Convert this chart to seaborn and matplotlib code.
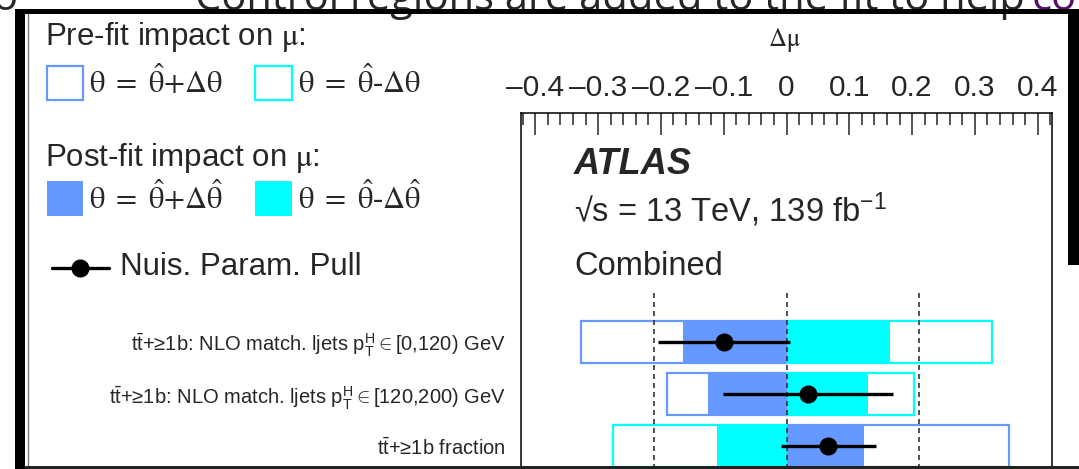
import numpy as np
import matplotlib.pyplot as plt
import seaborn as sns
from matplotlib.patches import Rectangle
from matplotlib.lines import Line2D
from matplotlib.ticker import MultipleLocator, FixedLocator, FixedFormatter

# ------------------------------------------------------------
# data
# ------------------------------------------------------------
labels = [
    r'$\mathrm{t\bar{t}}$+≥1b: NLO match. ljets $\mathrm{p}_{\mathrm{T}}^{\mathrm{H}} \in$[0,120) GeV',
    r'$\mathrm{t\bar{t}}$+≥1b: NLO match. ljets $\mathrm{p}_{\mathrm{T}}^{\mathrm{H}} \in$[120,200) GeV',
    r'$\mathrm{t\bar{t}}$+≥1b fraction',
]
prefit_up    = [-0.327, -0.191, 0.354]   # theta = theta_hat + delta theta
prefit_down  = [0.327, 0.203, -0.277]    # theta = theta_hat - delta theta
postfit_up   = [-0.165, -0.125, 0.124]
postfit_down = [0.165, 0.130, -0.111]
pulls    = [-0.47, 0.16, 0.315]
pull_err = [0.50, 0.64, 0.36]

mu_ticks = [-0.4, -0.3, -0.2, -0.1, 0.0, 0.1, 0.2, 0.3, 0.4]
mu_tick_labels = ['\u20130.4', '\u20130.3', '\u20130.2', '\u20130.1', '0',
                  '0.1', '0.2', '0.3', '0.4']
pull_lines = [-1, 0, 1]

BLUE = '#6699ff'
CYAN = '#00ffff'

sns.set_style('white')
plt.rcParams['font.family'] = ['Liberation Sans', 'DejaVu Sans']
plt.rcParams['mathtext.fontset'] = 'custom'
plt.rcParams['mathtext.rm'] = 'Liberation Sans'
plt.rcParams['mathtext.it'] = 'Liberation Sans:italic'
plt.rcParams['mathtext.bf'] = 'Liberation Sans:bold'

W, H = 1079, 469
fig = plt.figure(figsize=(W / 100, H / 100), dpi=100)


def fx(x):
    return x / W


def fy(y):
    return 1 - y / H


def rect_px(x0, y0, x1, y1, **kw):
    fig.add_artist(Rectangle((fx(x0), fy(y1)), fx(x1) - fx(x0), fy(y0) - fy(y1),
                             transform=fig.transFigure, **kw))


# main axes (left 521, right 1052, top 113, bottom 467 in pixels)
ax = fig.add_axes([fx(521), fy(467), fx(1052) - fx(521), fy(113) - fy(467)])
# pull axis (-2..2) shares the rows; made first because twiny resets ax ticks
ax2 = ax.twiny()

# pre-fit impact: outlines
sns.barplot(x=prefit_up, y=labels, orient='y', ax=ax, fill=False,
            color=BLUE, linewidth=1.6, width=0.8, errorbar=None, zorder=1)
sns.barplot(x=prefit_down, y=labels, orient='y', ax=ax, fill=False,
            color=CYAN, linewidth=1.6, width=0.8, errorbar=None, zorder=1)
# post-fit impact: filled
sns.barplot(x=postfit_up, y=labels, orient='y', ax=ax, color=BLUE,
            saturation=1, linewidth=0, width=0.8, errorbar=None, zorder=2)
sns.barplot(x=postfit_down, y=labels, orient='y', ax=ax, color=CYAN,
            saturation=1, linewidth=0, width=0.8, errorbar=None, zorder=2)

ax.set_xlim(-0.4228, 0.4228)
ax.set_ylabel('')

ax.xaxis.tick_top()
ax.xaxis.set_major_locator(FixedLocator(mu_ticks))
ax.xaxis.set_major_formatter(FixedFormatter(mu_tick_labels))
ax.xaxis.set_minor_locator(MultipleLocator(0.02))
ax.tick_params(axis='x', which='major', direction='in', length=15.6,
               width=1.1, pad=8, labelsize=21.5, top=True, bottom=False,
               labeltop=True, labelbottom=False)
ax.tick_params(axis='x', which='minor', direction='in', length=8.4,
               width=1.1, top=True, bottom=False)
ax.tick_params(axis='y', length=0, pad=11, labelsize=14.5)
for s in ax.spines.values():
    s.set_color('black')
    s.set_linewidth(1.1)

ax.xaxis.set_label_position('top')
ax.set_xlabel(r'$\mathrm{\Delta\mu}$', fontsize=18, math_fontfamily='stix')
ax.xaxis.set_label_coords(0.497, 1.189)

ax2.set_xlim(-2, 2)
ax2.vlines(pull_lines, ymin=-0.94, ymax=2.5, colors='#333333',
           linestyles=(0, (3, 2.4)), linewidth=1.2, zorder=3)
ax2.errorbar(pulls, np.arange(len(pulls)), xerr=pull_err, fmt='o',
             color='black', ms=12, elinewidth=2.4, capsize=0, zorder=4)
ax2.tick_params(top=False, labeltop=False, bottom=False, labelbottom=False)
for s in ax2.spines.values():
    s.set_visible(False)
ax.set_ylim(2.40, -4.40)

# ATLAS label block
fig.text(fx(574), fy(174), 'ATLAS', fontsize=26, fontweight='bold',
         fontstyle='italic', va='baseline')
fig.text(fx(574), fy(222), '√s = 13 TeV, 139 fb$^{-1}$', fontsize=23.5,
         va='baseline')
fig.text(fx(574), fy(275), 'Combined', fontsize=23.5, va='baseline')

# legend block on the left
serif = ['Liberation Serif', 'DejaVu Serif']
fig.text(fx(45), fy(45), r'Pre-fit impact on $\mathrm{\mu}$:', fontsize=22.5,
         va='baseline', math_fontfamily='stix')
rect_px(46.5, 66, 83.3, 100, facecolor='white', edgecolor=BLUE, linewidth=1.6)
rect_px(255, 66, 291.7, 100, facecolor='white', edgecolor=CYAN, linewidth=1.6)
fig.text(fx(89), fy(93), r'$\mathrm{\theta}\ =\ \hat{\mathrm{\theta}}{+}\mathrm{\Delta\theta}$',
         fontsize=22, va='baseline', family=serif, math_fontfamily='stix')
fig.text(fx(298), fy(93), r'$\mathrm{\theta}\ =\ \hat{\mathrm{\theta}}$-$\mathrm{\Delta\theta}$',
         fontsize=22, va='baseline', family=serif, math_fontfamily='stix')

fig.text(fx(45), fy(166), r'Post-fit impact on $\mathrm{\mu}$:', fontsize=22.5,
         va='baseline', math_fontfamily='stix')
rect_px(46.5, 181, 83.3, 216, facecolor=BLUE, edgecolor='none')
rect_px(255, 181, 291.7, 216, facecolor=CYAN, edgecolor='none')
fig.text(fx(89), fy(209),
         r'$\mathrm{\theta}\ =\ \hat{\mathrm{\theta}}{+}\mathrm{\Delta}\hat{\mathrm{\theta}}$',
         fontsize=22, va='baseline', family=serif, math_fontfamily='stix')
fig.text(fx(298), fy(209),
         r'$\mathrm{\theta}\ =\ \hat{\mathrm{\theta}}$-$\mathrm{\Delta}\hat{\mathrm{\theta}}$',
         fontsize=22, va='baseline', family=serif, math_fontfamily='stix')

fig.add_artist(Line2D([fx(51.6), fx(108.5)], [fy(268), fy(268)], color='black',
                      linewidth=2.4, transform=fig.transFigure))
fig.add_artist(Line2D([fx(80)], [fy(268)], marker='o', ms=12, color='black',
                      transform=fig.transFigure))
fig.text(fx(120.5), fy(275), 'Nuis. Param. Pull', fontsize=22.5, va='baseline')

# slide text cut off at the top edge
slide_font = ['Open Sans', 'DejaVu Sans']
fig.text(fx(-7), fy(10), 'o', fontsize=30, family=slide_font,
         va='baseline', zorder=0)
fig.text(fx(195), fy(10), 'Control regions are added to the fit to help', fontsize=30,
         family=slide_font, va='baseline', zorder=0)
fig.text(fx(1032), fy(10), 'co', fontsize=30, color='#5b0f6b',
         family=slide_font, va='baseline', zorder=0)

# slide frame
rect_px(15, 8.6, 1070, 13.8, facecolor='black', edgecolor='none', zorder=5)
rect_px(15.5, 8.6, 25, 469, facecolor='black', edgecolor='none', zorder=5)
rect_px(1068, 8.6, 1079, 265, facecolor='black', edgecolor='none', zorder=5)
rect_px(25, 466, 1079, 469, facecolor='#222222', edgecolor='none', zorder=5)
fig.add_artist(Line2D([fx(27.5), fx(27.5)], [fy(14), fy(469)], color='#777777',
                      linewidth=1, transform=fig.transFigure))

fig.savefig('out.png', dpi=100)
